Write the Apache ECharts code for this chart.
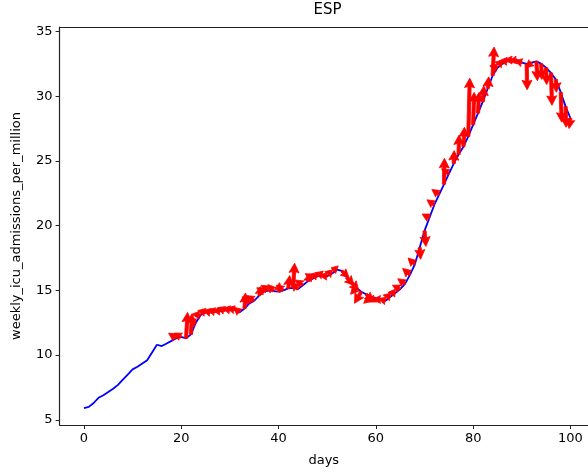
<!DOCTYPE html>
<html>
<head>
<meta charset="utf-8">
<script src="https://cdn.jsdelivr.net/npm/echarts@6/dist/echarts.min.js"></script>
<style>
html,body{margin:0;padding:0;background:#fff;}
#chart{width:588px;height:473px;}
</style>
</head>
<body>
<div id="chart"></div>
<script>
// ---- data ----
const titleText = 'ESP';
const xName = 'days';
const yName = 'weekly_icu_admissions_per_million';
const xTicks = [0, 20, 40, 60, 80, 100];
const yTicks = [5, 10, 15, 20, 25, 30, 35];
const firstDay = 0;
// weekly ICU admissions per million, one value per day (day 0..100)
const icu = [
  5.9, 6.0, 6.3, 6.7, 6.9, 7.15, 7.4, 7.7, 8.1, 8.5,
  8.9, 9.1, 9.35, 9.6, 10.2, 10.8, 10.7, 10.9, 11.1, 11.3,
  11.4, 11.3, 11.6, 12.5, 13.1, 13.3, 13.3, 13.35, 13.4, 13.45,
  13.5, 13.5, 13.3, 13.6, 14.0, 14.2, 14.6, 14.9, 15.0, 14.95,
  14.9, 15.0, 15.15, 15.2, 15.1, 15.4, 15.7, 15.9, 16.1, 16.2,
  16.1, 16.3, 16.6, 16.5, 16.0, 15.6, 15.2, 14.9, 14.7, 14.5,
  14.4, 14.3, 14.2, 14.5, 14.8, 15.1, 15.5, 16.2, 17.0, 18.3,
  19.6, 20.6, 21.6, 22.4, 23.2, 24.0, 24.8, 25.5, 26.1, 26.9,
  27.8, 28.7, 29.6, 30.6, 31.6, 32.2, 32.5, 32.7, 32.8, 32.8,
  32.6, 32.5, 32.6, 32.7, 32.5, 32.2, 31.8, 31.3, 30.3, 29.2,
  28.3
];
// quiver arrows: start day, horizontal component (days), vertical component (value)
const arrowDays = [
  19, 20, 21, 22, 23, 24, 25, 26, 27, 28, 29, 30, 31, 32, 33, 34, 35, 36, 37, 38,
  39, 40, 41, 42, 43, 44, 45, 46, 47, 48, 49, 50, 51, 52, 53, 54, 55, 56, 57, 58,
  59, 60, 61, 62, 63, 64, 65, 66, 67, 68, 69, 70, 71, 72, 73, 74, 75, 76, 77, 78,
  79, 80, 81, 82, 83, 84, 85, 86, 87, 88, 89, 90, 91, 92, 93, 94, 95, 96, 97, 98,
  99, 100
];
const arrowU = [
  -1.6, -1.5, 0.3, 0.2, -1.6, -1.8, -1.6, -1.5, -1.6, -1.5, -1.6, -1.5, -1.6, -1.2, 0.2, -1.5, -1.6, 0.3, -1.5, -1.6,
  -1.2, 0.2, -1.5, 0.3, 0.3, -1.5, -1.6, 0.3, -1.5, -1.6, -1.5, -1.6, -1.5, -1.2, 1.5, 1.5, 1.5, -1.2, -1.4, 1.5,
  -1.5, -1.5, -1.6, -1.5, -1.5, -1.5, -1.6, -1.5, -1.5, -1.4, 0.2, 0.3, -1.5, -1.5, -1.5, 0.1, -1.5, 0.1, 0.1, 0.2,
  0.3, 0.2, 0.2, 0.2, 0.2, 0.3, -1.6, -1.5, -1.6, -1.5, -1.6, -1.5, 0.1, -1.2, 0.2, 0.1, 0.1, 0.2, 0.1, 0.2,
  0.1, -0.3
];
const arrowV = [
  0.4, 0.3, 2.0, 1.6, 0.15, 0.05, 0.15, 0.15, 0.15, 0.05, 0.2, 0.1, 0.15, 0.4, 1.2, 0.5, 0.4, 0.7, 0.3, 0.4,
  0.5, 0.7, 0.4, 1.0, 1.9, 0.5, 0.4, 0.6, 0.4, 0.15, 0.15, 0.05, 0.15, 0.15, -0.5, -0.6, -0.6, -0.5, -0.9, -0.5,
  -0.5, -0.3, 0.0, 0.15, 0.15, 0.05, 0.3, 0.4, 0.5, 0.5, -0.9, -1.2, 0.3, 0.4, 0.4, 2.0, 0.4, 1.0, 1.5, 1.5,
  4.5, 2.5, 1.6, 1.2, 0.9, 2.2, 0.15, 0.15, 0.05, 0.0, -0.1, 0.15, -2.0, -0.4, -1.5, -1.2, -1.3, -2.5, -1.0, -2.3,
  -1.6, -0.8
];

// ---- build ----
const lineData = icu.map((v, i) => [firstDay + i, v]);
const arrowData = arrowDays.map((d, i) => [d, icu[d - firstDay], arrowU[i], arrowV[i]]);

function renderArrow(params, api) {
  const x = api.value(0), y = api.value(1), u = api.value(2), v = api.value(3);
  const p0 = api.coord([x, y]);
  const p1 = api.coord([x + u, y + v]);
  const dx = p1[0] - p0[0], dy = p1[1] - p0[1];
  const L = Math.hypot(dx, dy);
  if (L < 0.5) return null;
  const ux = dx / L, uy = dy / L, nx = -uy, ny = ux;
  let hw = 5.0, hl = 9.5, hal = 8.5, sw = 1.6;
  const need = hl * 1.2;
  if (L < need) {
    const s = Math.max(0.8, L / need);
    hw *= s; hl *= s; hal *= s; sw *= s;
  }
  hl = Math.min(hl, L); hal = Math.min(hal, L);
  const bx = p1[0] - ux * hal, by = p1[1] - uy * hal;
  const hx = p1[0] - ux * hl, hy = p1[1] - uy * hl;
  const pts = [
    [p0[0] + nx * sw, p0[1] + ny * sw],
    [bx + nx * sw, by + ny * sw],
    [hx + nx * hw, hy + ny * hw],
    [p1[0], p1[1]],
    [hx - nx * hw, hy - ny * hw],
    [bx - nx * sw, by - ny * sw],
    [p0[0] - nx * sw, p0[1] - ny * sw]
  ];
  return {
    type: 'polygon',
    shape: { points: pts },
    style: { fill: '#ff0000', stroke: '#ff0000', lineWidth: 0.8, lineJoin: 'round' }
  };
}

const FONT = 'DejaVu Sans';
const axisCommon = {
  splitLine: { show: false },
  axisLine: { show: true, onZero: false, lineStyle: { color: '#222', width: 1.2 } }
};
const chart = echarts.init(document.getElementById('chart'), null, { renderer: 'canvas' });
chart.setOption({
  animation: false,
  backgroundColor: '#ffffff',
  title: {
    text: titleText,
    left: 327.5,
    top: 3,
    padding: 0,
    textAlign: 'center',
    textStyle: { fontFamily: FONT, fontSize: 15, fontWeight: 'normal', color: '#000' }
  },
  grid: {
    left: 59.6, right: 0, top: 27, bottom: 48, show: false
  },
  xAxis: [{
    type: 'value', min: -5, max: 103.6, position: 'bottom',
    name: xName, nameLocation: 'middle', nameGap: 29,
    nameTextStyle: { fontFamily: FONT, fontSize: 13, color: '#000' },
    ...axisCommon,
    axisTick: { show: true, inside: false, length: 4, customValues: xTicks, lineStyle: { color: '#222' } },
    axisLabel: { customValues: xTicks, margin: 7, fontFamily: FONT, fontSize: 13, color: '#000' }
  }, {
    type: 'value', min: -5, max: 103.6, position: 'top',
    ...axisCommon,
    axisTick: { show: false }, axisLabel: { show: false }
  }],
  yAxis: {
    type: 'value', min: 4.6, max: 35.35,
    name: yName, nameLocation: 'middle', nameGap: 36, nameRotate: 90,
    nameTextStyle: { fontFamily: FONT, fontSize: 13, color: '#000' },
    ...axisCommon,
    axisTick: { show: true, inside: false, length: 4, customValues: yTicks, lineStyle: { color: '#222' } },
    axisLabel: { customValues: yTicks, margin: 7, fontFamily: FONT, fontSize: 13, color: '#000' }
  },
  series: [
    {
      type: 'line', data: lineData, showSymbol: false, symbol: 'none',
      lineStyle: { color: '#0000ff', width: 1.8 }, z: 2
    },
    {
      type: 'custom', data: arrowData, renderItem: renderArrow,
      encode: { x: 0, y: 1 }, z: 3, clip: false
    }
  ]
});
</script>
</body>
</html>
